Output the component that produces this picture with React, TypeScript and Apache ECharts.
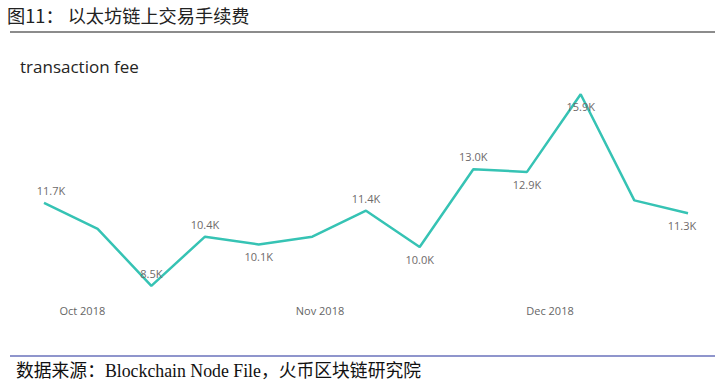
import React, { useEffect, useRef } from "react";
import * as echarts from "echarts";

const weekDates = [
  "2018-09-26", "2018-10-03", "2018-10-10", "2018-10-17", "2018-10-24",
  "2018-10-31", "2018-11-07", "2018-11-14", "2018-11-21", "2018-11-28",
  "2018-12-05", "2018-12-12", "2018-12-19",
];
const feeK = [11.7, 10.7, 8.5, 10.4, 10.1, 10.4, 11.4, 10.0, 13.0, 12.9, 15.9, 11.8, 11.3];
// label placement per point: "top", "bottom" or "" for no label
const labelPos = ["top", "", "top", "top", "bottom", "", "top", "bottom", "top", "bottom", "bottom", "", "bottom"];
const monthTicks = ["2018-10-01", "2018-11-01", "2018-12-01"];
const monthLabels = ["Oct 2018", "Nov 2018", "Dec 2018"];

const toTs = (s: string) => {
  const [y, m, d] = s.split("-").map(Number);
  return Date.UTC(y, m - 1, d);
};

export default function App() {
  const ref = useRef<HTMLDivElement>(null);
  useEffect(() => {
    if (!ref.current) return;
    const chart = echarts.init(ref.current, null, { renderer: "svg" });
    const tickTs = monthTicks.map(toTs);
    const data = weekDates.map((d, i) => {
      const pos = labelPos[i];
      const item: any = { value: [toTs(d), feeK[i]] };
      if (!pos) {
        item.label = { show: false };
      } else {
        item.label = {
          show: true,
          position: pos,
          distance: 7,
          offset: i === 0 ? [7, 0] : i === weekDates.length - 1 ? [-6, 0] : [0, 0],
        };
      }
      return item;
    });
    chart.setOption({
      animation: false,
      backgroundColor: "#ffffff",
      grid: { left: 44, right: 38, top: 91.6, bottom: 92.2, containLabel: false },
      xAxis: {
        type: "value",
        min: toTs(weekDates[0]),
        max: toTs(weekDates[weekDates.length - 1]),
        axisLine: { show: false },
        axisTick: { show: false },
        splitLine: { show: false },
        axisLabel: {
          customValues: tickTs,
          margin: 6,
          color: "#666666",
          fontSize: 11,
          fontFamily: "Open Sans, sans-serif",
          formatter: (val: number) => {
            const i = tickTs.indexOf(val);
            return i >= 0 ? monthLabels[i] : "";
          },
        },
      },
      yAxis: {
        type: "value",
        min: 8,
        max: 16,
        show: false,
        splitLine: { show: false },
      },
      series: [
        {
          type: "line",
          data,
          symbol: "circle",
          symbolSize: 0.01,
          showSymbol: true,
          lineStyle: { color: "#36c3b4", width: 2.5 },
          itemStyle: { color: "#36c3b4" },
          label: {
            show: true,
            color: "#6e6a6a",
            fontSize: 11,
            fontFamily: "Open Sans, sans-serif",
            formatter: (p: any) => p.value[1].toFixed(1) + "K",
          },
        },
      ],
      graphic: [
        {
          type: "text",
          left: 7,
          top: 6,
          style: {
            text: "图11： 以太坊链上交易手续费",
            fontSize: 18.2,
            fontFamily: "Noto Sans CJK SC",
            fill: "#222222",
          },
        },
        {
          type: "line",
          shape: { x1: 10, y1: 32, x2: 715, y2: 32 },
          style: { stroke: "#666666", lineWidth: 1.5 },
        },
        {
          type: "text",
          left: 20,
          top: 58,
          style: {
            text: "transaction fee",
            fontSize: 17,
            fontFamily: "Open Sans, sans-serif",
            fill: "#252423",
          },
        },
        {
          type: "line",
          shape: { x1: 10, y1: 356, x2: 715, y2: 356 },
          style: { stroke: "#6a72bb", lineWidth: 1.5 },
        },
        {
          type: "text",
          left: 16,
          top: 362,
          style: {
            text: "数据来源：Blockchain Node File，火币区块链研究院",
            fontSize: 17.8,
            fontFamily: "Liberation Serif, Noto Sans CJK SC, serif",
            fill: "#111111",
          },
        },
      ],
    });
    return () => chart.dispose();
  }, []);
  return (
    <div
      ref={ref}
      style={{ position: "fixed", left: 0, top: 0, width: 726, height: 391, background: "#fff" }}
    />
  );
}
